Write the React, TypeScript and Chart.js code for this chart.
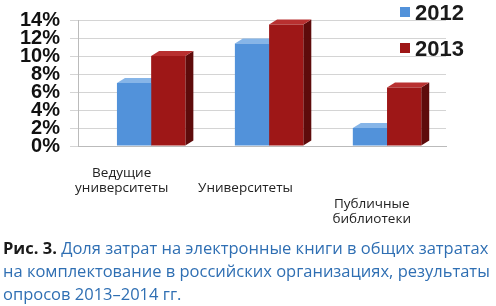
import React, { useEffect, useRef } from "react";
import { Chart, registerables } from "chart.js";

Chart.register(...registerables);

const categories: string[][] = [
  ["Ведущие", "университеты"],
  ["", "Университеты"],
  ["", "", "Публичные", "библиотеки"],
];
const series2012 = [7, 11.4, 2];
const series2013 = [10, 13.5, 6.5];
const yTicks = [0, 2, 4, 6, 8, 10, 12, 14];

const frontColors = ["#5292da", "#9e1717"];
const sideColors = ["#3a6fae", "#5e0b0b"];
const topColors = ["#86b5e8", "#b83030"];
// how far each category label sits left of its bar pair (in category units)
const labelShift = [-0.25, -0.2, -0.13];

const bar3d = {
  id: "bar3d",
  beforeDatasetsDraw(chart: any) {
    const ctx = chart.ctx;
    const dx = 8;
    const dy = 5;
    ctx.save();
    chart.data.datasets.forEach((_ds: any, i: number) => {
      const meta = chart.getDatasetMeta(i);
      meta.data.forEach((bar: any) => {
        const { x, y, base, width } = bar.getProps(["x", "y", "base", "width"], true);
        const l = x - width / 2;
        const r = x + width / 2;
        ctx.fillStyle = sideColors[i];
        ctx.beginPath();
        ctx.moveTo(r, y);
        ctx.lineTo(r + dx, y - dy);
        ctx.lineTo(r + dx, base - dy);
        ctx.lineTo(r, base);
        ctx.closePath();
        ctx.fill();
        ctx.fillStyle = topColors[i];
        ctx.beginPath();
        ctx.moveTo(l, y);
        ctx.lineTo(l + dx, y - dy);
        ctx.lineTo(r + dx, y - dy);
        ctx.lineTo(r, y);
        ctx.closePath();
        ctx.fill();
      });
    });
    ctx.restore();
  },
};

export default function App() {
  const ref = useRef<HTMLCanvasElement>(null);
  useEffect(() => {
    document.body.style.margin = "0";
    const chart = new Chart(ref.current!, {
      type: "bar",
      data: {
        datasets: [
          {
            label: "2012",
            data: series2012.map((v, i) => ({ x: i, y: v })),
            backgroundColor: frontColors[0],
            borderWidth: 0,
          },
          {
            label: "2013",
            data: series2013.map((v, i) => ({ x: i, y: v })),
            backgroundColor: frontColors[1],
            borderWidth: 0,
          },
        ],
      },
      options: {
        animation: false,
        responsive: false,
        layout: { padding: { top: 10, right: 50, left: 10, bottom: 0 } },
        datasets: { bar: { categoryPercentage: 0.58, barPercentage: 1.0 } } as any,
        plugins: { legend: { display: false }, tooltip: { enabled: false } },
        scales: {
          x: {
            type: "linear",
            offset: false,
            bounds: "data",
            min: -0.62,
            max: 2.5,
            afterBuildTicks: (axis: any) => {
              axis.ticks = categories.map((_c, i) => ({ value: i + labelShift[i] }));
            },
            grid: { display: false, offset: false },
            border: { color: "#bbbbbb" },
            ticks: {
              color: "#222",
              font: { family: "'Open Sans', sans-serif", size: 13.5, lineHeight: "15.5px" as any },
              maxRotation: 0,
              autoSkip: false,
              padding: 11,
              callback: (_v: any, idx: number) => categories[idx],
            },
          },
          y: {
            min: 0,
            max: 14,
            afterBuildTicks: (axis: any) => {
              axis.ticks = yTicks.map((v) => ({ value: v }));
            },
            grid: { color: "#d4d4d4" },
            border: { color: "#bbbbbb" },
            ticks: {
              color: "#111",
              autoSkip: false,
              padding: 10,
              font: { family: "'Liberation Sans', Arial, sans-serif", size: 20, weight: "bold", lineHeight: 1 },
              callback: (v: any) => v + "%",
            },
          },
        },
      },
      plugins: [bar3d],
    });
    return () => chart.destroy();
  }, []);

  const legendItem = (color: string, text: string) => (
    <div style={{ display: "flex", alignItems: "flex-start", height: 36 }}>
      <span style={{ display: "inline-block", width: 10, height: 10, background: color, marginTop: 5, marginRight: 5 }} />
      <span style={{ fontFamily: "'Liberation Sans', Arial, sans-serif", fontWeight: "bold", fontSize: 22, lineHeight: "22px", color: "#1a1a1a" }}>{text}</span>
    </div>
  );

  return (
    <div style={{ position: "relative", width: 496, height: 306, background: "#fff", overflow: "hidden" }}>
      <canvas ref={ref} width={496} height={238} style={{ display: "block" }} />
      <div style={{ position: "absolute", left: 400, top: 2 }}>
        {legendItem(frontColors[0], "2012")}
        {legendItem(frontColors[1], "2013")}
      </div>
      <div
        style={{
          position: "absolute",
          left: 3,
          top: 236,
          width: 494,
          fontFamily: "'Open Sans', sans-serif",
          fontSize: 16.5,
          lineHeight: "23px",
          color: "#2f6fb3",
          whiteSpace: "nowrap",
        }}
      >
        <span style={{ fontWeight: "bold", color: "#1a1a1a" }}>Рис. 3.</span> Доля затрат на электронные книги в общих затратах
        <br />
        на комплектование в российских организациях, результаты
        <br />
        опросов 2013–2014 гг.
      </div>
    </div>
  );
}
